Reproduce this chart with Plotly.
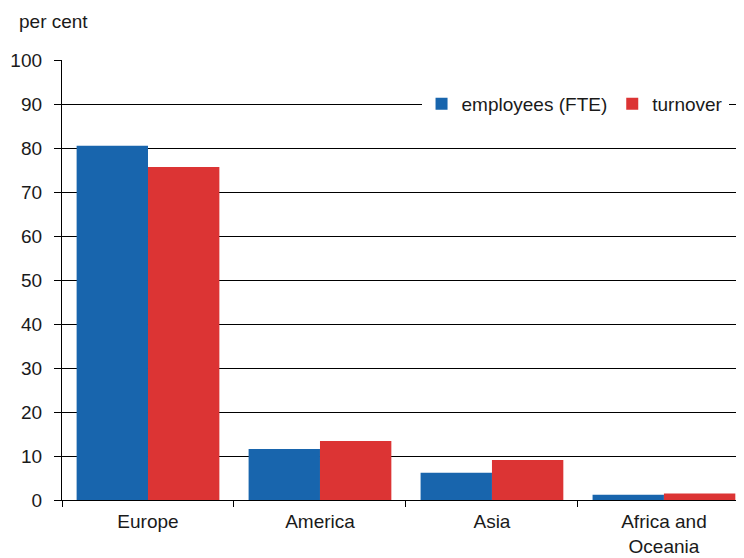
import plotly.graph_objects as go

categories = ["Europe", "America", "Asia", "Africa and<br>Oceania"]
employees = [80.5, 11.6, 6.2, 1.2]
turnover = [75.7, 13.4, 9.1, 1.5]
series_names = ["employees (FTE)", "turnover"]
colors = ["#1865ad", "#dc3434"]

FONT = "Liberation Sans, Arial, sans-serif"
TXT = "#1a1a1a"
FS = 19

fig = go.Figure()
fig.add_trace(go.Bar(x=categories, y=employees, name=series_names[0],
                     marker=dict(color=colors[0], line=dict(width=0))))
fig.add_trace(go.Bar(x=categories, y=turnover, name=series_names[1],
                     marker=dict(color=colors[1], line=dict(width=0))))

fig.update_layout(
    width=744, height=558,
    margin=dict(l=54, r=0, t=52, b=66, autoexpand=False),
    paper_bgcolor="white", plot_bgcolor="white",
    font=dict(family=FONT, size=FS, color=TXT),
    barmode="group", bargap=0.17, bargroupgap=0,
    showlegend=True,
    legend=dict(orientation="h", x=0.966, xanchor="right", y=0.9, yanchor="middle",
                bgcolor="white", font=dict(family=FONT, size=FS, color=TXT),
                itemwidth=30, tracegroupgap=0),
    annotations=[dict(text="per cent", xref="paper", yref="paper",
                      x=-45/690, y=1 + 38/440, xanchor="left", yanchor="middle",
                      showarrow=False, font=dict(family=FONT, size=FS, color=TXT))],
)
fig.update_xaxes(
    range=[-0.5, 3.512], showline=True, linecolor="black", linewidth=1.3,
    ticks="outside", tickson="boundaries", ticklen=6, tickcolor="black", tickwidth=1.3,
    showgrid=False, tickfont=dict(family=FONT, size=FS, color=TXT),
    ticklabelstandoff=4,
)
fig.update_yaxes(
    range=[0, 100], dtick=10, showline=True, linecolor="black", linewidth=1.3,
    ticks="outside", ticklen=7, tickcolor="black", tickwidth=1.3,
    showgrid=True, gridcolor="black", gridwidth=1.3, zeroline=True, zerolinecolor="black",
    zerolinewidth=1.3, tickfont=dict(family=FONT, size=FS, color=TXT),
    ticklabelstandoff=8,
)

fig.write_html("out.html")
